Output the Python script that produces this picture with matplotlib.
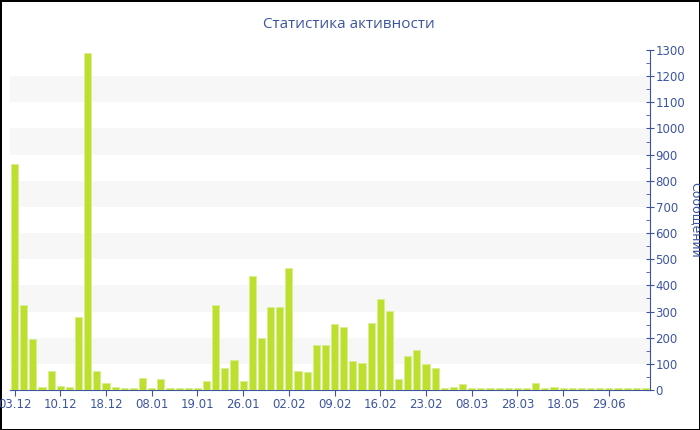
import matplotlib
matplotlib.use('Agg')
import matplotlib.pyplot as plt
import matplotlib.ticker as mtick

# data, one value per bar
values = [863, 325, 196, 11, 74, 15, 10, 280, 1287, 74,
          25, 10, 7, 7, 45, 8, 41, 7, 7, 7,
          7, 34, 326, 85, 113, 33, 435, 198, 319, 316,
          465, 71, 68, 171, 173, 254, 241, 112, 105, 255,
          349, 301, 42, 131, 152, 99, 85, 9, 13, 22,
          7, 8, 7, 7, 7, 8, 7, 27, 9, 10,
          9, 7, 8, 7, 7, 7, 7, 7, 7, 7]
tick_labels = ['03.12', '10.12', '18.12', '08.01', '19.01', '26.01', '02.02',
               '09.02', '16.02', '23.02', '08.03', '28.03', '18.05', '29.06']
tick_step = 5

blue = '#3d55a0'
green = '#bde02f'

fig = plt.figure(figsize=(7, 4.3), dpi=100)
fig.patch.set_edgecolor('black')
fig.patch.set_linewidth(2)
ax = fig.add_axes([10/700, 40/430, 640/700, 340/430])

x = range(len(values))
ax.bar(x, values, width=0.78, color=green, edgecolor='#d8ee90', linewidth=0.6, zorder=3)

# alternating bands
for lo in range(100, 1300, 200):
    ax.axhspan(lo, lo + 100, color='#f7f7f7', zorder=0, lw=0)

ax.set_xlim(-0.5, len(values) - 0.5)
ax.set_ylim(0, 1300)

ax.yaxis.tick_right()
ax.yaxis.set_label_position('right')
ax.yaxis.set_major_locator(mtick.MultipleLocator(100))
ax.yaxis.set_minor_locator(mtick.MultipleLocator(50))
ax.tick_params(axis='y', which='major', direction='inout', length=6, color=blue,
               labelcolor=blue, labelsize=8.5, pad=1)
ax.tick_params(axis='y', which='minor', direction='in', length=3, color=blue)

ax.set_xticks([i * tick_step for i in range(len(tick_labels))])
ax.set_xticklabels(tick_labels)
ax.tick_params(axis='x', direction='out', length=4, color=blue, labelcolor=blue,
               labelsize=8.5, pad=2)

for side in ['top', 'left']:
    ax.spines[side].set_visible(False)
ax.spines['right'].set_color(blue)
ax.spines['bottom'].set_color(blue)

ax.set_ylabel('Сообщений', color=blue, fontsize=9, rotation=270, labelpad=12)
fig.text(349/700, 1 - 25/430, 'Статистика активности', ha='center', va='center',
         color=blue, fontsize=11, family='Open Sans')

plt.savefig('out.png', dpi=100)
